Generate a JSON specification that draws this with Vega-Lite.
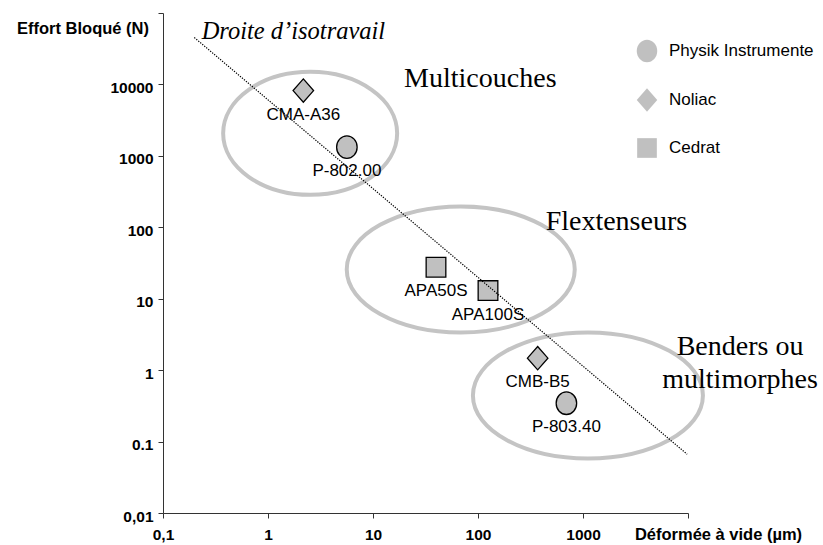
{
  "$schema": "https://vega.github.io/schema/vega-lite/v6.json",
  "width": 525,
  "height": 500,
  "autosize": {"type": "none"},
  "padding": {"left": 163, "top": 13, "right": 135, "bottom": 32},
  "background": "white",
  "config": {"view": {"stroke": null}, "font": "Liberation Sans"},
  "datasets": {
    "products": [
      {"name": "CMA-A36", "maker": "Noliac", "d": 2.17, "F": 8200},
      {"name": "P-802.00", "maker": "Physik Instrumente", "d": 5.64, "F": 1325},
      {"name": "APA50S", "maker": "Cedrat", "d": 39.8, "F": 27.6},
      {"name": "APA100S", "maker": "Cedrat", "d": 124.5, "F": 13.0},
      {"name": "CMB-B5", "maker": "Noliac", "d": 370, "F": 1.47},
      {"name": "P-803.40", "maker": "Physik Instrumente", "d": 695, "F": 0.344}
    ],
    "groups": [
      {"group": "Multicouches", "d": 2.52, "F": 2065},
      {"group": "Flextenseurs", "d": 68.5, "F": 25.7},
      {"group": "Benders", "d": 1114, "F": 0.443}
    ],
    "iso": [
      {"d": 0.1986, "F": 45400},
      {"d": 9820, "F": 0.0664}
    ],
    "isoNote": [
      {"text": "Droite d’isotravail", "d": 1.746, "F": 43500}
    ],
    "groupNotes": [
      {"text": "Multicouches", "d": 105.2, "F": 9350},
      {"text": "Flextenseurs", "d": 2080, "F": 92},
      {"text": "Benders ou", "d": 31300, "F": 1.633},
      {"text": "multimorphes", "d": 31300, "F": 0.564}
    ]
  },
  "layer": [
    {
      "data": {"name": "groups"},
      "transform": [{"filter": "datum.group == 'Multicouches'"}],
      "mark": {"type": "point", "shape": "M-1,0C-1,-0.3905 -0.5523,-0.707 0,-0.707C0.5523,-0.707 1,-0.3905 1,0C1,0.3905 0.5523,0.707 0,0.707C-0.5523,0.707 -1,0.3905 -1,0Z", "size": 30276, "filled": false, "stroke": "#c4c4c4", "strokeWidth": 4, "opacity": 1},
      "encoding": {
        "x": {"field": "d", "type": "quantitative", "scale": {"type": "log", "domain": [0.1, 10000], "nice": false},
          "axis": {
            "values": [0.1, 1, 10, 100, 1000, 10000],
            "labelExpr": "datum.value < 0.5 ? '0,1' : datum.value < 5 ? '1' : datum.value < 50 ? '10' : datum.value < 500 ? '100' : datum.value < 5000 ? '1000' : ''",
            "grid": false, "domainColor": "#333", "tickColor": "#333", "tickSize": 5,
            "labelFont": "Liberation Sans", "labelFontWeight": "bold", "labelFontSize": 15.5, "labelColor": "black",
            "labelPadding": 9, "labelFlush": false, "labelOverlap": false, "labelBound": false,
            "title": "Déformée à vide (µm)", "titleFont": "Liberation Sans", "titleFontWeight": "bold", "titleFontSize": 16.5, "titleColor": "black",
            "titleX": 555, "titleY": 26, "titleAlign": "center", "titleBaseline": "alphabetic", "titleAnchor": null
          }},
        "y": {"field": "F", "type": "quantitative", "scale": {"type": "log", "domain": [0.01, 100000], "nice": false},
          "axis": {
            "values": [0.01, 0.1, 1, 10, 100, 1000, 10000, 100000],
            "labelExpr": "datum.value < 0.05 ? '0,01' : datum.value < 0.5 ? '0.1' : datum.value < 5 ? '1' : datum.value < 50 ? '10' : datum.value < 500 ? '100' : datum.value < 5000 ? '1000' : datum.value < 50000 ? '10000' : ''",
            "grid": false, "domainColor": "#333", "tickColor": "#333", "tickSize": 5,
            "labelFont": "Liberation Sans", "labelFontWeight": "bold", "labelFontSize": 15.5, "labelColor": "black",
            "labelPadding": 5, "labelOffset": 3, "labelFlush": false, "labelOverlap": false, "labelBound": false,
            "title": "Effort Bloqué (N)", "titleFont": "Liberation Sans", "titleFontWeight": "bold", "titleFontSize": 16.5, "titleColor": "black",
            "titleAngle": 0, "titleX": -80.5, "titleY": 20, "titleAlign": "center", "titleBaseline": "alphabetic"
          }}
      }
    },
    {
      "data": {"name": "groups"},
      "transform": [{"filter": "datum.group == 'Flextenseurs'"}],
      "mark": {"type": "point", "shape": "M-1,0C-1,-0.3054 -0.5523,-0.553 0,-0.553C0.5523,-0.553 1,-0.3054 1,0C1,0.3054 0.5523,0.553 0,0.553C-0.5523,0.553 -1,0.3054 -1,0Z", "size": 51984, "filled": false, "stroke": "#c4c4c4", "strokeWidth": 4, "opacity": 1},
      "encoding": {
        "x": {"field": "d", "type": "quantitative"},
        "y": {"field": "F", "type": "quantitative"}
      }
    },
    {
      "data": {"name": "groups"},
      "transform": [{"filter": "datum.group == 'Benders'"}],
      "mark": {"type": "point", "shape": "M-1,0C-1,-0.3027 -0.5523,-0.548 0,-0.548C0.5523,-0.548 1,-0.3027 1,0C1,0.3027 0.5523,0.548 0,0.548C-0.5523,0.548 -1,0.3027 -1,0Z", "size": 52900, "filled": false, "stroke": "#c4c4c4", "strokeWidth": 4, "opacity": 1},
      "encoding": {
        "x": {"field": "d", "type": "quantitative"},
        "y": {"field": "F", "type": "quantitative"}
      }
    },
    {
      "data": {"name": "products"},
      "mark": {"type": "point", "filled": true, "fill": "#c0c0c0", "stroke": "black", "strokeWidth": 1.3, "strokeOpacity": 1, "size": 420, "opacity": 1},
      "encoding": {
        "x": {"field": "d", "type": "quantitative"},
        "y": {"field": "F", "type": "quantitative"},
        "stroke": {"value": "black"},
        "strokeWidth": {"value": 1.3},
        "shape": {"field": "maker", "type": "nominal",
          "scale": {"domain": ["Physik Instrumente", "Noliac", "Cedrat"], "range": [
            "M-1,0C-1,-0.61 -0.55,-1.1 0,-1.1C0.55,-1.1 1,-0.61 1,0C1,0.61 0.55,1.1 0,1.1C-0.55,1.1 -1,0.61 -1,0Z",
            "M0,-1.14L1,0L0,1.14L-1,0Z",
            "M-0.96,-0.96L0.96,-0.96L0.96,0.96L-0.96,0.96Z"]},
          "legend": {"title": null, "orient": "none", "legendX": 473, "legendY": 27, "symbolSize": 420,
            "symbolFillColor": "#c0c0c0", "symbolStrokeColor": "black", "symbolStrokeWidth": 1.3, "symbolOpacity": 1,
            "labelFont": "Liberation Sans", "labelFontSize": 17, "labelColor": "black", "labelOffset": 11,
            "rowPadding": 20, "padding": 0,
            "encode": {"symbols": {"update": {"stroke": {"value": "black"}, "strokeWidth": {"value": 1.3}, "fill": {"value": "#c0c0c0"}, "opacity": {"value": 1}}}}}}
      }
    },
    {
      "data": {"name": "products"},
      "mark": {"type": "text", "font": "Liberation Sans", "fontSize": 17, "color": "black", "baseline": "middle", "align": "center", "dy": 24},
      "encoding": {
        "x": {"field": "d", "type": "quantitative"},
        "y": {"field": "F", "type": "quantitative"},
        "text": {"field": "name"}
      }
    },
    {
      "data": {"name": "iso"},
      "mark": {"type": "line", "color": "black", "strokeWidth": 1.2, "strokeDash": [1.3, 1.3]},
      "encoding": {
        "x": {"field": "d", "type": "quantitative"},
        "y": {"field": "F", "type": "quantitative"}
      }
    },
    {
      "data": {"name": "isoNote"},
      "mark": {"type": "text", "font": "Liberation Serif", "fontStyle": "italic", "fontSize": 24.5, "color": "black", "align": "center", "baseline": "alphabetic"},
      "encoding": {
        "x": {"field": "d", "type": "quantitative"},
        "y": {"field": "F", "type": "quantitative"},
        "text": {"field": "text"}
      }
    },
    {
      "data": {"name": "groupNotes"},
      "mark": {"type": "text", "font": "Liberation Serif", "fontSize": 28, "color": "black", "align": "center", "baseline": "alphabetic"},
      "encoding": {
        "x": {"field": "d", "type": "quantitative"},
        "y": {"field": "F", "type": "quantitative"},
        "text": {"field": "text"}
      }
    }
  ]
}
